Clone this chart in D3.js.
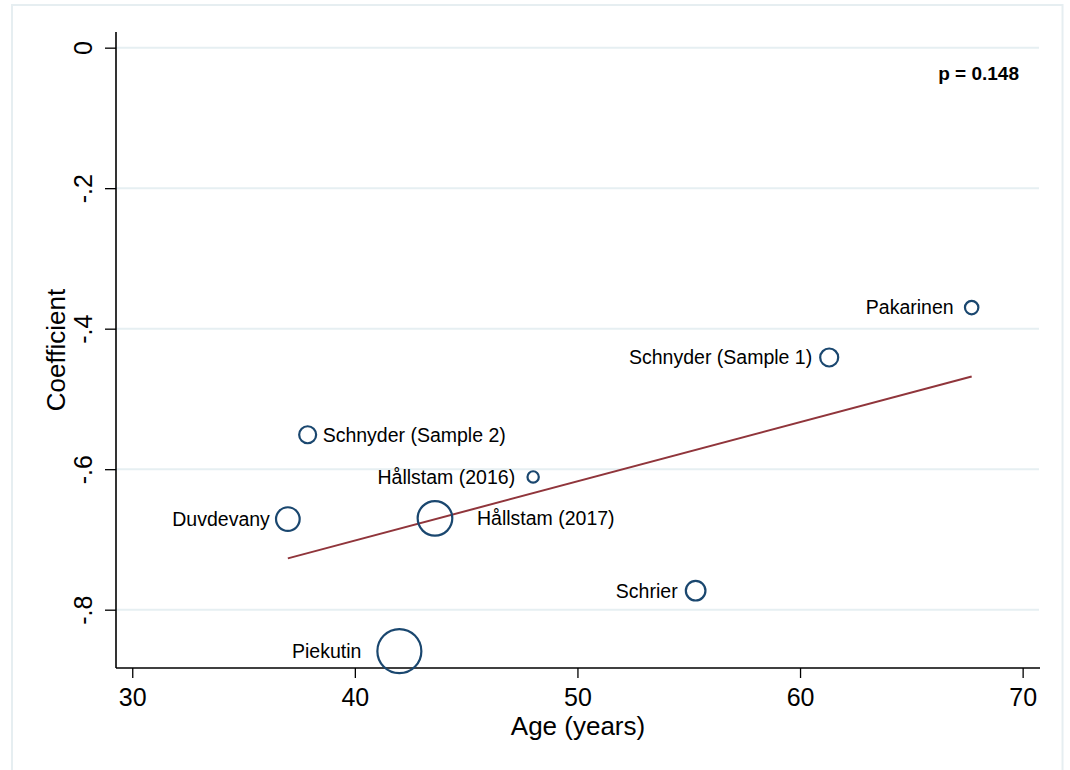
<!DOCTYPE html>
<html>
<head>
<meta charset="utf-8">
<script src="https://cdn.jsdelivr.net/npm/d3@7/dist/d3.min.js"></script>
<style>
  html, body { margin: 0; padding: 0; background: #ffffff; }
  svg { display: block; font-family: "Liberation Sans", Arial, Helvetica, sans-serif; }
</style>
</head>
<body>
<svg id="chart" width="1070" height="770"></svg>
<script>
// Meta-regression of study coefficients on mean age
const studies = ["Pakarinen", "Schnyder (Sample 1)", "Schnyder (Sample 2)", "Hållstam (2016)",
                 "Duvdevany", "Hållstam (2017)", "Schrier", "Piekutin"];
const ages    = [67.71, 61.31, 37.88, 48.01, 36.99, 43.60, 55.31, 42.00];
const coefs   = [-0.370, -0.441, -0.551, -0.611, -0.671, -0.670, -0.773, -0.859];
const weights = [45, 81, 72, 32, 140, 300, 96, 484];

// Fitted regression line (end points over the observed age range)
const fitAges  = [36.99, 67.71];
const fitCoefs = [-0.727, -0.468];

const xTicks = [30, 40, 50, 60, 70];
const yTicks = [0, -0.2, -0.4, -0.6, -0.8];
const yTickLabels = ["0", "-.2", "-.4", "-.6", "-.8"];
const pText = "p = 0.148";

// label placement: side of the marker and distance from its centre (px)
const labelSide = ["left", "left", "right", "left", "left", "right", "left", "left"];
const labelGap  = [18, 17, 15, 18, 18, 42, 18, 38];

const svg = d3.select("#chart");

// outer frame
svg.append("rect")
  .attr("x", 12).attr("y", 5).attr("width", 1050.5).attr("height", 780)
  .attr("fill", "#ffffff").attr("stroke", "#e6eef1").attr("stroke-width", 2);

const plot = { left: 116, right: 1040, top: 32, bottom: 668 };

const x = d3.scaleLinear().domain([29.27, 70.78]).range([plot.left, plot.right]);
const y = d3.scaleLinear().domain([-0.883, 0.0223]).range([plot.bottom, plot.top]);
const r = d3.scaleSqrt().domain([0, 484]).range([0, 22]);

// gridlines
svg.append("g").selectAll("line").data(yTicks).join("line")
  .attr("x1", plot.left).attr("x2", plot.right - 1)
  .attr("y1", d => y(d)).attr("y2", d => y(d))
  .attr("stroke", "#e6eff2").attr("stroke-width", 2);

// y axis
const yAxis = d3.axisLeft(y).tickValues(yTicks).tickSize(11).tickFormat((d, i) => yTickLabels[i]);
const gy = svg.append("g").attr("transform", `translate(${plot.left},0)`).call(yAxis);
gy.select(".domain").attr("d", `M0,${plot.top}V${plot.bottom}`).attr("stroke", "#000").attr("stroke-width", 1.6);
gy.selectAll(".tick line").attr("stroke", "#000").attr("stroke-width", 1.3);
gy.selectAll(".tick text")
  .attr("font-size", 25).attr("fill", "#000")
  .attr("text-anchor", "middle")
  .attr("x", null).attr("dy", null)
  .attr("transform", "translate(-24,0) rotate(-90)");

// x axis
const xAxis = d3.axisBottom(x).tickValues(xTicks).tickSize(10).tickFormat(d3.format("d"));
const gx = svg.append("g").attr("transform", `translate(0,${plot.bottom})`).call(xAxis);
gx.select(".domain").attr("d", `M${plot.left},0H${plot.right}`).attr("stroke", "#000").attr("stroke-width", 1.6);
gx.selectAll(".tick line").attr("stroke", "#000").attr("stroke-width", 1.3);
gx.selectAll(".tick text")
  .attr("font-size", 25).attr("fill", "#000")
  .attr("y", 38).attr("dy", null);

// axis titles
svg.append("text")
  .attr("x", (plot.left + plot.right) / 2).attr("y", 735)
  .attr("text-anchor", "middle").attr("font-size", 26).attr("fill", "#000")
  .text("Age (years)");
svg.append("text")
  .attr("transform", `translate(65,${(plot.top + plot.bottom) / 2}) rotate(-90)`)
  .attr("text-anchor", "middle").attr("font-size", 26).attr("fill", "#000")
  .text("Coefficient");

// regression line
svg.append("line")
  .attr("x1", x(fitAges[0])).attr("y1", y(fitCoefs[0]))
  .attr("x2", x(fitAges[1])).attr("y2", y(fitCoefs[1]))
  .attr("stroke", "#90353b").attr("stroke-width", 2);

// weighted study markers
const pts = studies.map((s, i) => ({
  name: s, age: ages[i], coef: coefs[i], w: weights[i], side: labelSide[i], gap: labelGap[i]
}));

svg.append("g").selectAll("circle").data(pts).join("circle")
  .attr("cx", d => x(d.age)).attr("cy", d => y(d.coef)).attr("r", d => r(d.w))
  .attr("fill", "none").attr("stroke", "#1a476f").attr("stroke-width", 2.2);

// study labels
svg.append("g").selectAll("text").data(pts).join("text")
  .attr("x", d => d.side === "left" ? x(d.age) - d.gap : x(d.age) + d.gap)
  .attr("y", d => y(d.coef))
  .attr("dy", "0.35em")
  .attr("text-anchor", d => d.side === "left" ? "end" : "start")
  .attr("font-size", 19.5).attr("fill", "#000")
  .text(d => d.name);

// p-value annotation
svg.append("text")
  .attr("x", 1019).attr("y", 80)
  .attr("text-anchor", "end").attr("font-size", 19).attr("font-weight", "bold").attr("fill", "#000")
  .text(pText);
</script>
</body>
</html>
